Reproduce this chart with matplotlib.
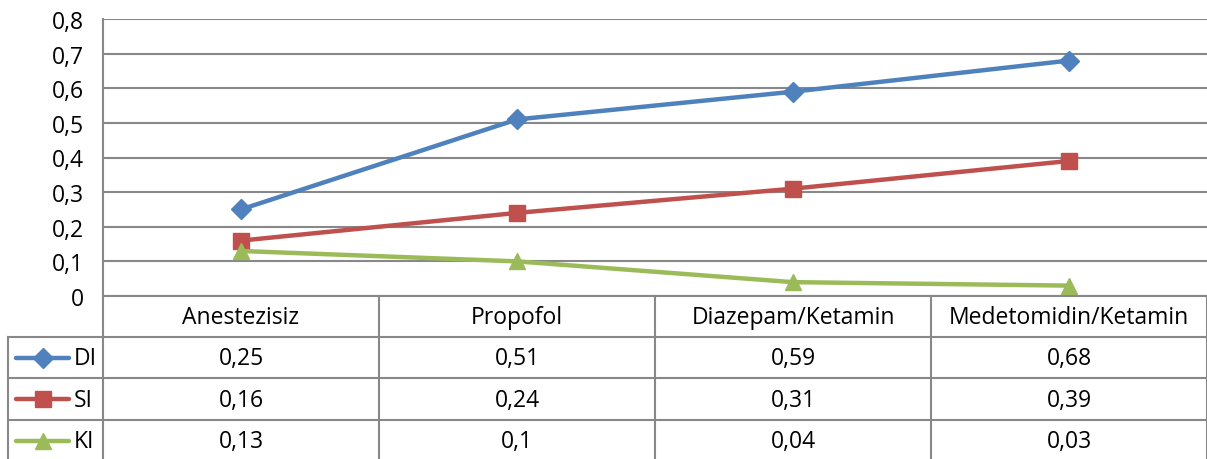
import matplotlib.pyplot as plt

categories = ['Anestezisiz', 'Propofol', 'Diazepam/Ketamin', 'Medetomidin/Ketamin']
series_names = ['DI', 'SI', 'KI']
di_values = [0.25, 0.51, 0.59, 0.68]
si_values = [0.16, 0.24, 0.31, 0.39]
ki_values = [0.13, 0.10, 0.04, 0.03]
y_ticks = [0, 0.1, 0.2, 0.3, 0.4, 0.5, 0.6, 0.7, 0.8]

colors = ['#4F81BD', '#C0504D', '#9BBB59']
markers = ['D', 's', '^']
msizes = [10, 11, 12]
grid_c = '#888888'
fs = 16.5

plt.rcParams['font.family'] = ['Open Sans', 'DejaVu Sans']


def fmt(v):
    s = ('%.2f' % v).rstrip('0').rstrip('.')
    return s.replace('.', ',')


W, H = 1207, 460
fig = plt.figure(figsize=(W / 100, H / 100), dpi=100)

# plot area (pixel layout)
x0, x1, ytop, ybot = 103, 1207, 20, 297
ax = fig.add_axes([x0 / W, (H - ybot) / H, (x1 - x0) / W, (ybot - ytop) / H])
n = len(categories)
ax.set_xlim(-0.5, n - 0.5)
ax.set_ylim(0, 0.8)
ax.set_yticks(y_ticks)
ax.set_yticklabels([fmt(t) for t in y_ticks], fontsize=fs)
ax.tick_params(axis='y', length=0, pad=14)
ax.set_xticks([])
ax.grid(axis='y', color=grid_c, linewidth=1.5)
for sp in ['top', 'right', 'bottom']:
    ax.spines[sp].set_visible(False)
ax.spines['left'].set_color(grid_c)
ax.spines['left'].set_linewidth(1.5)

all_vals = [di_values, si_values, ki_values]
for vals, c, m, ms in zip(all_vals, colors, markers, msizes):
    ax.plot(range(n), vals, color=c, linewidth=3.2, marker=m, markersize=ms,
            clip_on=False, zorder=3)

# data table below the plot
tab = fig.add_axes([0, 0, 1, 1])
tab.set_xlim(0, W)
tab.set_ylim(H, 0)
tab.axis('off')
tab.patch.set_alpha(0)

col_w = (x1 - x0) / n
rows = [297, 338, 379, 421, 462]
lw = 1.5
tab.plot([x0, x1], [rows[0], rows[0]], color=grid_c, lw=lw)
for r in rows[1:4]:
    tab.plot([8, x1], [r, r], color=grid_c, lw=lw)
for i in range(n + 1):
    xv = x0 + i * col_w
    tab.plot([xv, xv], [rows[0], H], color=grid_c, lw=lw)
tab.plot([8, 8], [rows[1], H], color=grid_c, lw=lw)

for i, cat in enumerate(categories):
    tab.text(x0 + (i + 0.5) * col_w, (rows[0] + rows[1]) / 2 + 1, cat,
             ha='center', va='center', fontsize=fs)

for j, (name, vals) in enumerate(zip(series_names, all_vals)):
    yc = (rows[j + 1] + rows[j + 2]) / 2
    tab.plot([16, 69], [yc, yc], color=colors[j], lw=3.2,
             solid_capstyle='round')
    tab.plot([42.5], [yc], color=colors[j], marker=markers[j],
             markersize=msizes[j])
    tab.text(74, yc + 1, name, ha='left', va='center', fontsize=fs)
    for i, v in enumerate(vals):
        tab.text(x0 + (i + 0.5) * col_w, yc + 1, fmt(v),
                 ha='center', va='center', fontsize=fs)

fig.savefig('out.png', dpi=100)
